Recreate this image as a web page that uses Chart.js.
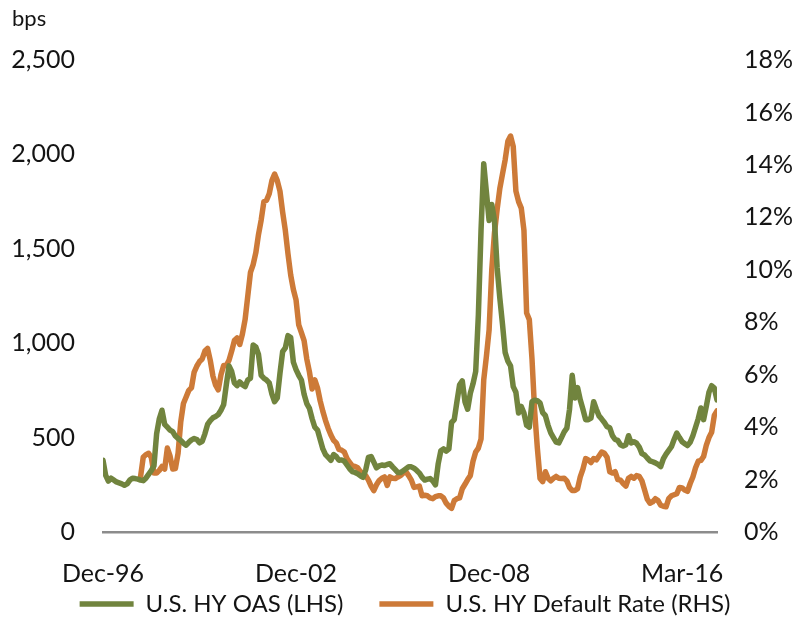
<!DOCTYPE html>
<html>
<head>
<meta charset="utf-8">
<script src="https://cdn.jsdelivr.net/npm/chart.js@4/dist/chart.umd.min.js"></script>
<style>
  html, body { margin: 0; padding: 0; background: #ffffff; }
  #wrap { width: 798px; height: 618px; }
</style>
</head>
<body>
<div id="wrap"><canvas id="chart" width="798" height="618"></canvas></div>
<script>
// Observation positions that carry an axis label, and the labels themselves
const tickIdx = [0, 72, 144, 216];
const tickLabels = ['Dec-96', 'Dec-02', 'Dec-08', 'Mar-16'];

// U.S. high-yield option-adjusted spread, bps (left axis)
const oasBps = [
  380, 300, 270, 285, 275, 265, 260, 255, 248, 255,
  275, 285, 283, 280, 275, 272, 285, 305, 325, 350,
  520, 600, 645, 570, 555, 540, 532, 508, 495, 485,
  470, 460, 475, 488, 495, 490, 472, 480, 520, 570,
  590, 605, 612, 622, 645, 675, 780, 880, 850, 790,
  775, 795, 780, 770, 805, 815, 990, 980, 940, 830,
  815, 805, 790, 730, 690, 710, 840, 955, 975, 1040,
  1030, 900, 860, 830, 805, 730, 680, 655, 600, 555,
  540, 490, 440, 410, 395, 380, 410, 400, 380, 382,
  375, 355, 335, 320, 315, 308, 298, 290, 330, 395,
  400, 370, 340, 350, 355, 352, 358, 362, 345, 330,
  315, 315, 325, 335, 345, 345, 338, 326, 312, 290,
  275, 280, 283, 270, 250, 360, 430, 440, 428, 440,
  580, 595, 690, 780, 800, 690, 650, 735, 785, 850,
  1150, 1600, 1950, 1800, 1650, 1735, 1650, 1400, 1240, 1100,
  950, 905, 880, 770, 740, 630, 665, 630, 565, 555,
  690, 698, 695, 684, 632, 616, 565, 525, 500, 476,
  472, 500, 530, 550, 650, 830, 710, 765, 700, 650,
  595, 595, 603, 690, 650, 615, 598, 580, 558, 552,
  510, 490, 485, 462, 455, 462, 510, 472, 478, 470,
  450, 415, 408, 392, 377, 372, 366, 358, 347, 388,
  412, 432, 452, 490, 524, 500, 478, 468, 458, 475,
  510, 555, 600, 657, 595, 665, 740, 775, 762, 700
];

// U.S. high-yield default rate, % (right axis)
const defaultRatePct = [
  null, null, null, null, null, null, null, null, null, null,
  null, null, null, null, 2.1, 2.85, 2.95, 3.0, 2.85, 2.25,
  2.25, 2.35, 2.5, 2.4, 3.2, 2.9, 2.4, 2.42, 3.0, 4.2,
  4.9, 5.15, 5.4, 5.5, 6.1, 6.33, 6.5, 6.6, 6.9, 7.0,
  6.55, 5.95, 5.6, 5.42, 6.0, 6.35, 6.35, 6.55, 6.9, 7.3,
  7.4, 7.15, 7.55, 8.1, 9.0, 9.9, 10.2, 10.65, 11.35, 11.9,
  12.6, 12.65, 12.9, 13.4, 13.65, 13.4, 13.0, 12.2, 11.5, 10.6,
  9.8, 9.25, 8.85, 7.9, 7.6, 7.3, 6.6, 6.1, 5.45, 5.8,
  5.5, 5.0, 4.6, 4.25, 3.95, 3.7, 3.5, 3.4, 3.15, 3.12,
  3.05, 2.8, 2.65, 2.52, 2.5, 2.45, 2.3, 2.25, 2.15, 1.98,
  1.75, 1.58, 1.8, 1.96, 2.05, 2.1, 1.78, 2.1, 2.05, 2.04,
  2.1, 2.15, 2.25, 2.3, 2.15, 1.98, 1.7, 1.72, 1.75, 1.38,
  1.4, 1.38, 1.3, 1.27, 1.35, 1.38, 1.38, 1.3, 1.1, 0.98,
  0.9, 1.2, 1.27, 1.3, 1.65, 1.82, 2.0, 2.15, 2.7, 3.05,
  3.2, 3.55, 5.8, 6.7, 7.7, 10.0, 11.4, 12.3, 13.1, 13.65,
  14.2, 14.9, 15.1, 14.7, 13.0, 12.6, 12.35, 11.5, 8.35, 8.1,
  6.6, 4.6, 3.2, 2.04, 1.92, 2.3, 2.05, 1.95, 2.05, 2.12,
  2.05, 2.04, 2.05, 1.95, 1.7, 1.58, 1.58, 1.65, 2.1, 2.4,
  2.8, 2.75, 2.65, 2.8, 2.75, 2.9, 3.05, 3.0, 2.85, 2.3,
  2.25, 2.3, 2.0, 1.98, 1.85, 1.75, 2.05, 2.12, 2.05, 2.15,
  2.12, 1.95, 1.6, 1.25, 1.1, 1.15, 1.27, 1.2, 1.02, 0.98,
  0.96, 1.27, 1.38, 1.42, 1.46, 1.7, 1.68, 1.6, 1.55, 1.85,
  2.1, 2.45, 2.7, 2.73, 2.88, 3.3, 3.6, 3.8, 4.45, 4.62
];

const seriesNames = ['U.S. HY OAS (LHS)', 'U.S. HY Default Rate (RHS)'];
const obsIndex = oasBps.map((_, i) => i);

const FONT = 'Lato';
const TEXT = '#141414';
const GREEN = '#71843e';
const ORANGE = '#cd7a38';

// "bps" unit caption above the left axis
const unitCaption = {
  id: 'unitCaption',
  afterDraw(chart) {
    const ctx = chart.ctx;
    ctx.save();
    ctx.font = '22px ' + FONT;
    ctx.fillStyle = TEXT;
    ctx.textBaseline = 'alphabetic';
    ctx.textAlign = 'left';
    ctx.fillText('bps', 12, 26);
    ctx.restore();
  }
};

const lineStyle = {
  borderWidth: 5.5,
  borderCapStyle: 'round',
  borderJoinStyle: 'round',
  pointRadius: 0,
  tension: 0,
  spanGaps: false
};

new Chart(document.getElementById('chart'), {
  type: 'line',
  data: {
    labels: obsIndex,
    datasets: [
      Object.assign({
        label: seriesNames[0],
        data: oasBps,
        yAxisID: 'yL',
        borderColor: GREEN,
        backgroundColor: GREEN
      }, lineStyle),
      Object.assign({
        label: seriesNames[1],
        data: defaultRatePct,
        yAxisID: 'yR',
        borderColor: ORANGE,
        backgroundColor: ORANGE
      }, lineStyle)
    ]
  },
  options: {
    responsive: false,
    animation: false,
    devicePixelRatio: 1,
    layout: { padding: { top: 60, left: 12, right: 0, bottom: -8 } },
    plugins: {
      tooltip: { enabled: false },
      title: { display: false },
      legend: {
        position: 'bottom',
        align: 'center',
        labels: {
          usePointStyle: true,
          pointStyle: 'line',
          pointStyleWidth: 54,
          padding: 36,
          color: TEXT,
          font: { family: FONT, size: 24 }
        }
      }
    },
    scales: {
      x: {
        type: 'linear',
        min: 0,
        max: obsIndex.length - 1,
        grid: { display: false, drawTicks: false },
        border: { display: true, color: '#8c8c8c', width: 2.5 },
        afterBuildTicks(scale) {
          scale.ticks = tickIdx.map(v => ({ value: v }));
        },
        afterFit(scale) { scale.height = 24; },
        ticks: {
          autoSkip: false,
          maxRotation: 0,
          // mirrored labels are not clipped to the short axis box; a negative
          // padding pushes them back below the axis line
          mirror: true,
          padding: -57,
          color: TEXT,
          font: { family: FONT, size: 25 },
          callback(value) {
            const k = tickIdx.indexOf(value);
            return k >= 0 ? tickLabels[k] : '';
          }
        }
      },
      yL: {
        position: 'left',
        min: 0,
        max: 2500,
        grid: { display: false, drawTicks: false },
        border: { display: false },
        afterFit(scale) { scale.width = 91; },
        ticks: {
          stepSize: 500,
          padding: 28,
          color: TEXT,
          font: { family: FONT, size: 25 },
          callback: v => v.toLocaleString('en-US')
        }
      },
      yR: {
        position: 'right',
        min: 0,
        max: 18,
        grid: { display: false, drawTicks: false },
        border: { display: false },
        afterFit(scale) { scale.width = 81; },
        ticks: {
          stepSize: 2,
          padding: 27,
          color: TEXT,
          font: { family: FONT, size: 25 },
          callback: v => v + '%'
        }
      }
    }
  },
  plugins: [unitCaption]
});
</script>
</body>
</html>
